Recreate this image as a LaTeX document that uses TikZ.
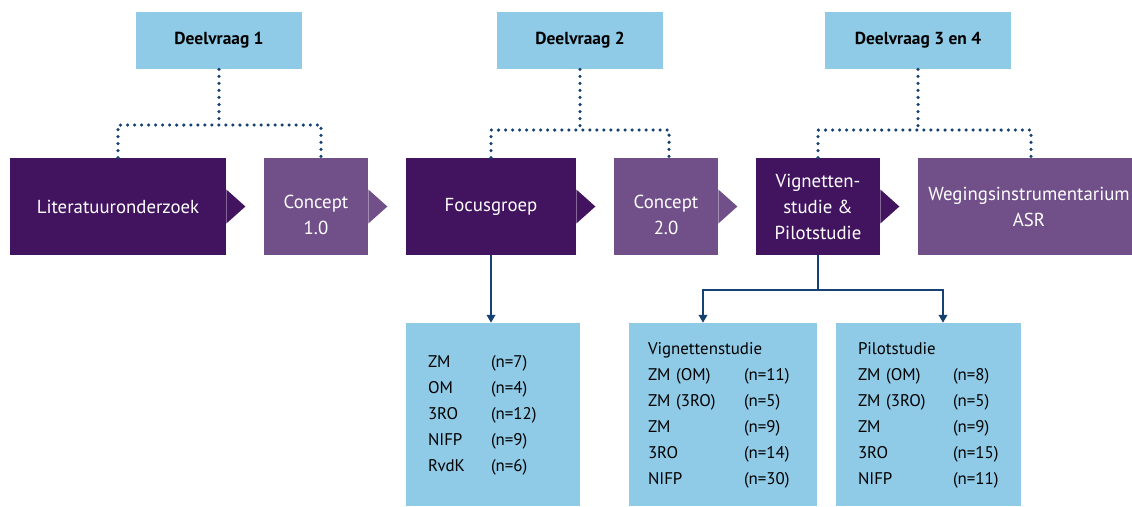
\documentclass[tikz,border=0pt]{standalone}
\usepackage{fontspec}
\setmainfont{PT Sans}
\usetikzlibrary{arrows.meta}
\definecolor{lichtblauw}{HTML}{8FCAE6}
\definecolor{donkerpaars}{HTML}{42145F}
\definecolor{paars}{HTML}{71508A}
\definecolor{donkerblauw}{HTML}{154273}
\begin{document}
\begin{tikzpicture}[
  vraag/.style={fill=lichtblauw, minimum height=1.14cm, font=\fontsize{9.9}{12}\selectfont\bfseries},
  stap/.style={minimum height=1.94cm, text=white, align=center, font=\fontsize{10.7}{14.8}\selectfont},
  steptekst/.style={text=white, align=center, font=\fontsize{10.7}{14.8}\selectfont, yshift=-0.17cm},
  lijst/.style={fill=lichtblauw, minimum height=3.66cm, inner xsep=0.44cm, align=left, font=\fontsize{9.6}{14.8}\selectfont},
  stippel/.style={donkerblauw, line width=2pt, line cap=round, dash pattern=on 0pt off 4pt},
  pijl/.style={donkerblauw, line width=0.85pt, -{Triangle[width=5pt,length=4.5pt]}}]
\useasboundingbox (0,0) rectangle (22.64,-10.12);
\clip (0,0) rectangle (22.64,-10.12);
\node[vraag, minimum width=3.32cm] (dv1) at (4.38,-0.81) {Deelvraag 1};
\node[vraag, minimum width=3.32cm] (dv2) at (11.6,-0.81) {Deelvraag 2};
\node[vraag, minimum width=3.72cm] (dv3) at (18.36,-0.81) {Deelvraag 3 en 4};
\node[stap, fill=donkerpaars, minimum width=4.32cm] (lit) at (2.36,-4.13) {Literatuuronderzoek};
\node[stap, fill=paars, minimum width=2.08cm, label={[steptekst]center:Concept\\1.0}] (c1) at (6.32,-4.13) {};
\node[stap, fill=donkerpaars, minimum width=3.4cm] (foc) at (9.82,-4.13) {Focusgroep};
\node[stap, fill=paars, minimum width=2.08cm, label={[steptekst]center:Concept\\2.0}] (c2) at (13.32,-4.13) {};
\node[stap, fill=donkerpaars, minimum width=2.48cm] (vig) at (16.36,-4.13) {Vignetten-\\studie \&\\Pilotstudie};
\node[stap, fill=paars, minimum width=4.44cm] (weg) at (20.58,-4.13) {Wegingsinstrumentarium\\ASR};
\foreach \n/\k in {lit/donkerpaars, c1/paars, foc/donkerpaars, c2/paars, vig/donkerpaars}
  \fill[\k] ([yshift=0.34cm]\n.east) -- ([xshift=0.38cm]\n.east) -- ([yshift=-0.34cm]\n.east) -- cycle;
\node[lijst, text width=2.6cm] (lfoc) at (9.86,-8.29) {\begin{tabular}{@{}p{1.26cm}@{}l@{}}
ZM & (n=7)\\ OM & (n=4)\\ 3RO & (n=12)\\ NIFP & (n=9)\\ RvdK & (n=6)\end{tabular}};
\node[lijst, text width=3.0cm, inner xsep=0.38cm] (lvig) at (14.46,-8.29) {\begin{tabular}{@{}p{1.92cm}@{}l@{}}
\multicolumn{2}{@{}l@{}}{Vignettenstudie}\\ ZM (OM) & (n=11)\\ ZM (3RO) & (n=5)\\ ZM & (n=9)\\ 3RO & (n=14)\\ NIFP & (n=30)\end{tabular}};
\node[lijst, text width=2.82cm] (lpil) at (18.57,-8.29) {\begin{tabular}{@{}p{1.9cm}@{}l@{}}
\multicolumn{2}{@{}l@{}}{Pilotstudie}\\ ZM (OM) & (n=8)\\ ZM (3RO) & (n=5)\\ ZM & (n=9)\\ 3RO & (n=15)\\ NIFP & (n=11)\end{tabular}};
\coordinate (j1) at (4.38,-2.5);
\coordinate (j2) at (11.6,-2.6);
\coordinate (j3) at (18.36,-2.6);
\draw[stippel] (dv1.south) -- (j1);
\draw[stippel] (lit.north) |- (j1) -| ([xshift=0.1cm]c1.north);
\draw[stippel] (dv2.south) -- (j2);
\draw[stippel] (foc.north) |- (j2) -| ([xshift=0.06cm]c2.north);
\draw[stippel] (dv3.south) -- (j3);
\draw[stippel] (vig.north) |- (j3) -| ([xshift=0.04cm]weg.north);
\coordinate (sp) at (16.36,-5.8);
\draw[pijl] (foc.south) -- (foc.south |- lfoc.north);
\draw[donkerblauw, line width=0.85pt] (vig.south) -- (sp);
\draw[pijl] (sp) -| ([xshift=-0.4cm]lvig.north);
\draw[pijl] (sp) -| ([xshift=0.29cm]lpil.north);
\end{tikzpicture}
\end{document}
